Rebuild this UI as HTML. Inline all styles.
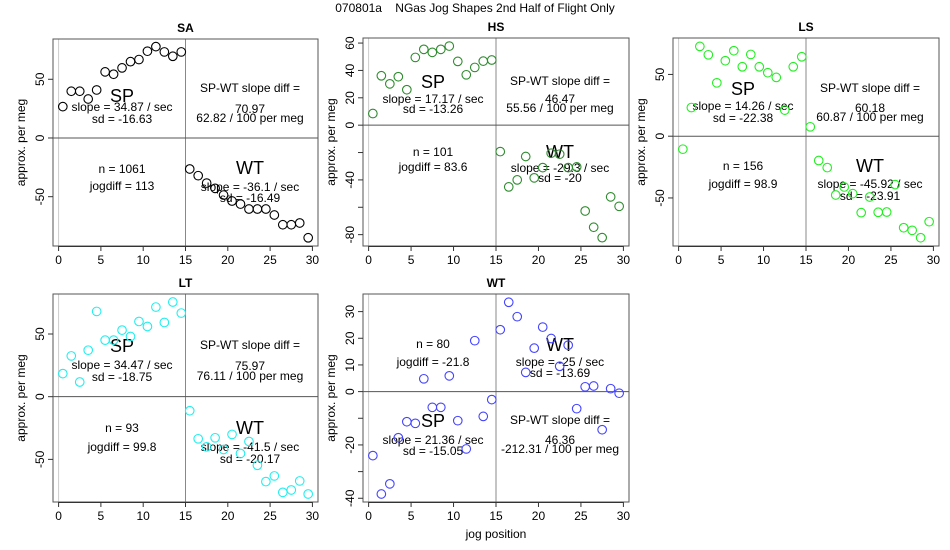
<!DOCTYPE html>
<html><head><meta charset="utf-8"><style>
body{margin:0;background:#fff;}
svg{display:block;font-family:"Liberation Sans",sans-serif;}
</style></head><body>
<svg id="chart" width="950" height="550" xmlns="http://www.w3.org/2000/svg">
<text x="475" y="12" text-anchor="middle" font-size="12" xml:space="preserve" style="white-space:pre">070801a    NGas Jog Shapes 2nd Half of Flight Only</text>
</svg>
<script>
const xPos = [0.5,1.5,2.5,3.5,4.5,5.5,6.5,7.5,8.5,9.5,10.5,11.5,12.5,13.5,14.5,15.5,16.5,17.5,18.5,19.5,20.5,21.5,22.5,23.5,24.5,25.5,26.5,27.5,28.5,29.5];
const saValues = [26.7,39.8,39.8,33.2,40.9,56.3,54.3,59.7,65,66.8,73.9,77.8,73.3,69.6,73.3,-26.4,-32.1,-38.4,-42.9,-48.6,-53.7,-56.3,-60.5,-60.5,-60.5,-65.6,-73.9,-73.9,-72.4,-85];
const hsValues = [8.5,36.1,30.2,35.4,25.9,49.5,55.4,53.2,55.4,57.8,46.6,36.8,42.2,46.8,47.6,-19.3,-45.1,-40,-22.9,-38.5,-31,-20.5,-21.2,-31,-30.5,-62.7,-74.6,-82.2,-52.4,-59.3];
const lsValues = [-10.5,23.2,72.7,65.9,43.2,61.1,69.2,56.2,66.2,56.2,51.4,47.6,21.1,56.2,64.3,7.6,-19.7,-25.4,-47.6,-41.1,-46.5,-61.9,-49.2,-61.6,-61.4,-39.2,-74.1,-76.2,-82.2,-69.2];
const ltValues = [18.4,32.5,11.7,37.1,68,45.1,45.1,53.1,48,60,56,71.5,59.2,75.5,66.7,-11.2,-33.6,-40,-32.8,-42.1,-30.1,-45.3,-35.7,-54.7,-67.7,-63.2,-76.3,-74.4,-67.2,-77.6];
const wtValues = [-24,-38.4,-34.6,-17.3,-11.3,-11.9,4.8,-5.9,-5.9,5.9,-10.9,-21.5,19.1,-9.3,-3,23.2,33.5,28.1,7.2,16.3,24.2,19.9,9.5,17.4,-6.4,1.8,2.1,-14.3,1.1,-0.6];
const xTicks = [0,5,10,15,20,25,30];
const saYTicks = [-50,0,50];
const hsYTicks = [-80,-60,-40,-20,0,20,40,60];
const hsYLabels = ["-80","","-40","","0","20","40","60"];
const wtYTicks = [-40,-30,-20,-10,0,10,20,30];
const wtYLabels = ["-40","","-20","","0","10","20","30"];

const NS="http://www.w3.org/2000/svg";
const svg=document.getElementById('chart');
function mk(tag,attrs,parent,txt){const e=document.createElementNS(NS,tag);for(const k in attrs)e.setAttribute(k,attrs[k]);if(txt!==undefined)e.textContent=txt;(parent||svg).appendChild(e);return e;}

const panels=[
 {id:'sa',title:'SA',L:53,T:39,R:318,B:246,ylo:-92,yhi:84.3,vals:saValues,col:'#000',yt:saYTicks,yl:["-50","0","50"],
  texts:[['SP',122,96,18],['slope = 34.87 / sec',122,107,12],['sd = -16.63',122,119,12],['SP-WT slope diff =',250,88,12],['70.97',250,109,12],['62.82 / 100 per meg',250,118,12],['n = 1061',122,169,12],['jogdiff = 113',122,186,12],['WT',250,168,18],['slope = -36.1 / sec',250,187,12],['sd = -16.49',250,198,12]]},
 {id:'hs',title:'HS',L:363,T:38,R:629,B:246,ylo:-88.3,yhi:63.7,vals:hsValues,col:'#2e8b2e',yt:hsYTicks,yl:hsYLabels,
  texts:[['SP',433,82,18],['slope = 17.17 / sec',433,99,12],['sd = -13.26',433,109,12],['SP-WT slope diff =',560,81,12],['46.47',560,99,12],['55.56 / 100 per meg',560,108,12],['n = 101',433,152,12],['jogdiff = 83.6',433,167,12],['WT',560,152,18],['slope = -29.3 / sec',560,168,12],['sd = -20',560,178,12]]},
 {id:'ls',title:'LS',L:673,T:38,R:939,B:246,ylo:-88.9,yhi:79.5,vals:lsValues,col:'#22ee22',yt:saYTicks,yl:["-50","0","50"],
  texts:[['SP',743,89,18],['slope = 14.26 / sec',743,106,12],['sd = -22.38',743,118,12],['SP-WT slope diff =',870,88,12],['60.18',870,108,12],['60.87 / 100 per meg',870,117,12],['n = 156',743,166,12],['jogdiff = 98.9',743,184,12],['WT',870,166,18],['slope = -45.92 / sec',870,184,12],['sd = -23.91',870,196,12]]},
 {id:'lt',title:'LT',L:53,T:294,R:318,B:502,ylo:-84,yhi:81.9,vals:ltValues,col:'#22eeee',yt:saYTicks,yl:["-50","0","50"],
  texts:[['SP',122,346,18],['slope = 34.47 / sec',122,365,12],['sd = -18.75',122,377,12],['SP-WT slope diff =',250,345,12],['75.97',250,366,12],['76.11 / 100 per meg',250,376,12],['n = 93',122,428,12],['jogdiff = 99.8',122,447,12],['WT',250,428,18],['slope = -41.5 / sec',250,447,12],['sd = -20.17',250,459,12]]},
 {id:'wt',title:'WT',L:363,T:294,R:629,B:502,ylo:-41.4,yhi:36.6,vals:wtValues,col:'#4444ff',yt:wtYTicks,yl:wtYLabels,xtitle:true,
  texts:[['n = 80',433,344,12],['jogdiff = -21.8',433,362,12],['WT',560,345,18],['slope = -25 / sec',560,362,12],['sd = -13.69',560,373,12],['SP',433,421,18],['slope = 21.36 / sec',433,440,12],['sd = -15.05',433,451,12],['SP-WT slope diff =',560,420,12],['46.36',560,440,12],['-212.31 / 100 per meg',560,449,12]]}
];

panels.forEach(p=>{
  const g=mk('g',{});
  
  
  const xs=v=>p.L+(v+0.66)/31.32*(p.R-p.L);
  const ys=v=>p.B-(v-p.ylo)/(p.yhi-p.ylo)*(p.B-p.T);
  const cx=(p.L+p.R)/2;
  const t=mk('text',{x:cx,y:p.T-7,'text-anchor':'middle','font-size':12,'font-weight':'bold'},g,p.title);
  
  
  mk('line',{x1:xs(0),x2:xs(0),y1:p.T,y2:p.B,stroke:'#ccc'},g);
  mk('line',{x1:xs(15),x2:xs(15),y1:p.T,y2:p.B,stroke:'#888'},g);
  mk('line',{x1:p.L,x2:p.R,y1:ys(0),y2:ys(0),stroke:'#555'},g);
  const box=mk('rect',{x:p.L,y:p.T,width:p.R-p.L,height:p.B-p.T,fill:'none',stroke:'#555'},g);
  
  
  xTicks.forEach(v=>{
    mk('line',{x1:xs(v),x2:xs(v),y1:p.B,y2:p.B+5,stroke:'#333'},g);
    const l=mk('text',{x:xs(v),y:p.B+18,'text-anchor':'middle','font-size':12},g,String(v));
    
    
  });
  mk('line',{x1:xs(0),x2:xs(30),y1:p.B+0.5,y2:p.B+0.5,stroke:'#333'},g);
  p.yt.forEach((v,i)=>{
    mk('line',{x1:p.L-5,x2:p.L,y1:ys(v),y2:ys(v),stroke:'#333'},g);
    if(p.yl[i]){
      const yy=ys(v),xx=p.L-9;
      const l=mk('text',{x:xx,y:yy,'text-anchor':'middle','font-size':12,transform:`rotate(-90 ${xx} ${yy})`},g,p.yl[i]);
      
      
    }
  });
  const ya=(p.T+p.B)/2, yx=p.L-28;
  const yt=mk('text',{x:yx,y:ya,'text-anchor':'middle','font-size':12,transform:`rotate(-90 ${yx} ${ya})`},g,'approx. per meg');
  
  
  if(p.xtitle){
    const xt=mk('text',{x:cx,y:538,'text-anchor':'middle','font-size':12},g,'jog position');
    
    
  }
  p.texts.forEach(a=>{
    const e=mk('text',{x:a[1],y:a[2],'text-anchor':'middle','dominant-baseline':'central','font-size':a[3]},g,a[0]);
    
    
  });
  p.vals.forEach((v,i)=>{
    const c=mk('circle',{cx:xs(xPos[i]),cy:ys(v),r:4.3,fill:'none',stroke:p.col,'stroke-width':1.1},g);
    
    
  });
});
</script>
</body></html>
